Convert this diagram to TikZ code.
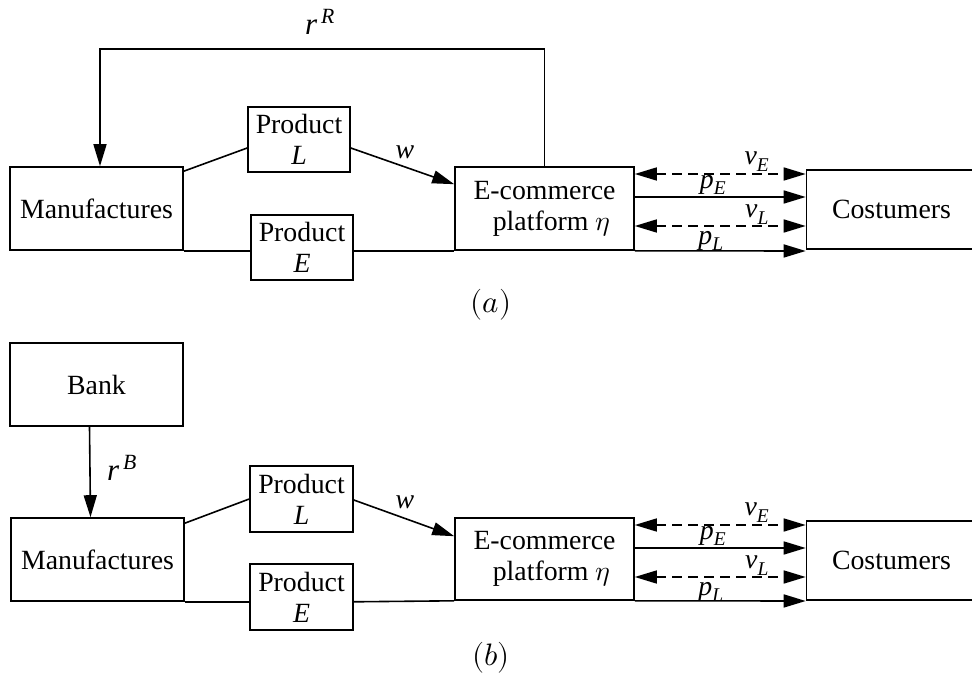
\documentclass[tikz,border=0pt]{standalone}
\usepackage{fontspec}
\usepackage{unicode-math}
\setmainfont{Liberation Serif}
\setmathfont{Latin Modern Math}
\usetikzlibrary{arrows.meta,calc}
\begin{document}
\begin{tikzpicture}[x=1pt,y=-1pt,
  txt/.style={font=\fontsize{27.8}{31}\selectfont},
  box/.style={draw, line width=1.6pt, rectangle, inner sep=0pt, align=center, txt},
  ln/.style={line width=1.6pt},
  tip/.tip={Triangle[length=22pt,width=13pt]},
  arr/.style={ln, -tip},
  dbl/.style={ln, dash pattern=on 10pt off 6pt, tip-tip},
  lbl/.style={txt, inner sep=0pt},
  captxt/.style={inner sep=0pt, font=\fontsize{31}{34}\selectfont}
]
\useasboundingbox (0,0) rectangle (972,676);

% ---------- (a) ----------
\node[box, minimum width=173pt, minimum height=83pt] (manA) at (96.5,208.5) {Manufactures};
\node[box, minimum width=102pt, minimum height=65pt] (plA) at (299,139.5) {Product\\\textit{L}};
\node[box, minimum width=102pt, minimum height=65pt] (peA) at (302,247.5) {Product\\\textit{E}};
\node[box, minimum width=179pt, minimum height=83pt] (ecA) at (544.5,208.5) {E-commerce\\\ \ platform $\eta$};
\node[box, minimum width=170pt, minimum height=79pt] (cuA) at (891.5,209.5) {Costumers};

\draw[arr] (ecA.north) -- (ecA.north |- 0,49) -| ($(manA.north)+(3.5,0)$);
\node[lbl, font=\fontsize{31}{34}\selectfont] (rR) at (320,22) {\textit{r}\textsuperscript{\,\textit{R}}};

\draw[ln] ($(manA.north east)+(0,5)$) -- ($(plA.west)+(0,8.5)$);
\draw[arr] ($(plA.east)+(0,8.5)$) -- ($(ecA.north west)+(0,18)$);
\node[lbl] (wA) at (405,152) {\textit{w}};

\draw[ln] (manA.south east) -- (manA.south east -| peA.west);
\draw[ln] (peA.east |- manA.south east) -- (ecA.south west);

\draw[dbl] (ecA.east |- 0,174) -- (cuA.west |- 0,174);
\draw[arr] (ecA.east |- 0,197) -- (cuA.west |- 0,197);
\draw[dbl] (ecA.east |- 0,226) -- (cuA.west |- 0,226);
\draw[arr] (ecA.south east) -- (cuA.west |- 0,251);
\node[lbl] (vEA) at (757,162) {\textit{v}\textsubscript{\textit{E}}};
\node[lbl] (pEA) at (713,185) {\textit{p}\textsubscript{\textit{E}}};
\node[lbl] (vLA) at (757,215) {\textit{v}\textsubscript{\textit{L}}};
\node[lbl] (pLA) at (711,241) {\textit{p}\textsubscript{\textit{L}}};

\node[captxt] (capA) at (491,305) {$(a)$};

% ---------- (b) ----------
\node[box, minimum width=173pt, minimum height=83pt] (bank) at (96.5,384.5) {Bank};
\node[box, minimum width=173pt, minimum height=83pt] (manB) at (97.5,559.5) {Manufactures};
\node[box, minimum width=103pt, minimum height=66pt] (plB) at (301.5,499) {Product\\\textit{L}};
\node[box, minimum width=103pt, minimum height=66pt] (peB) at (301.5,597) {Product\\\textit{E}};
\node[box, minimum width=179pt, minimum height=82pt] (ecB) at (544.5,559) {E-commerce\\\ \ platform $\eta$};
\node[box, minimum width=170pt, minimum height=79pt] (cuB) at (891.5,560.5) {Costumers};

\draw[arr] ($(bank.south)+(-7,0)$) -- ($(manB.north)+(-7,0)$);
\node[lbl, font=\fontsize{31}{34}\selectfont] (rB) at (122,468) {\textit{r}\textsuperscript{\,\textit{B}}};

\draw[ln] ($(manB.north east)+(0,6)$) -- ($(plB.west)+(0,0)$);
\draw[arr] ($(plB.east)+(0,1)$) -- ($(ecB.north west)+(0,19)$);
\node[lbl] (wB) at (405,502) {\textit{w}};

\draw[ln] (manB.south east) -- (manB.south east -| peB.west);
\draw[ln] (peB.east |- manB.south east) -- (ecB.south west);

\draw[dbl] (ecB.east |- 0,525) -- (cuB.west |- 0,525);
\draw[arr] (ecB.east |- 0,548) -- (cuB.west |- 0,548);
\draw[dbl] (ecB.east |- 0,577) -- (cuB.west |- 0,577);
\draw[arr] (ecB.south east) -- (cuB.west |- 0,601);
\node[lbl] (vEB) at (757,513) {\textit{v}\textsubscript{\textit{E}}};
\node[lbl] (pEB) at (713,536) {\textit{p}\textsubscript{\textit{E}}};
\node[lbl] (vLB) at (757,566) {\textit{v}\textsubscript{\textit{L}}};
\node[lbl] (pLB) at (711,592) {\textit{p}\textsubscript{\textit{L}}};

\node[captxt] (capB) at (491,658) {$(b)$};
\end{tikzpicture}
\end{document}
